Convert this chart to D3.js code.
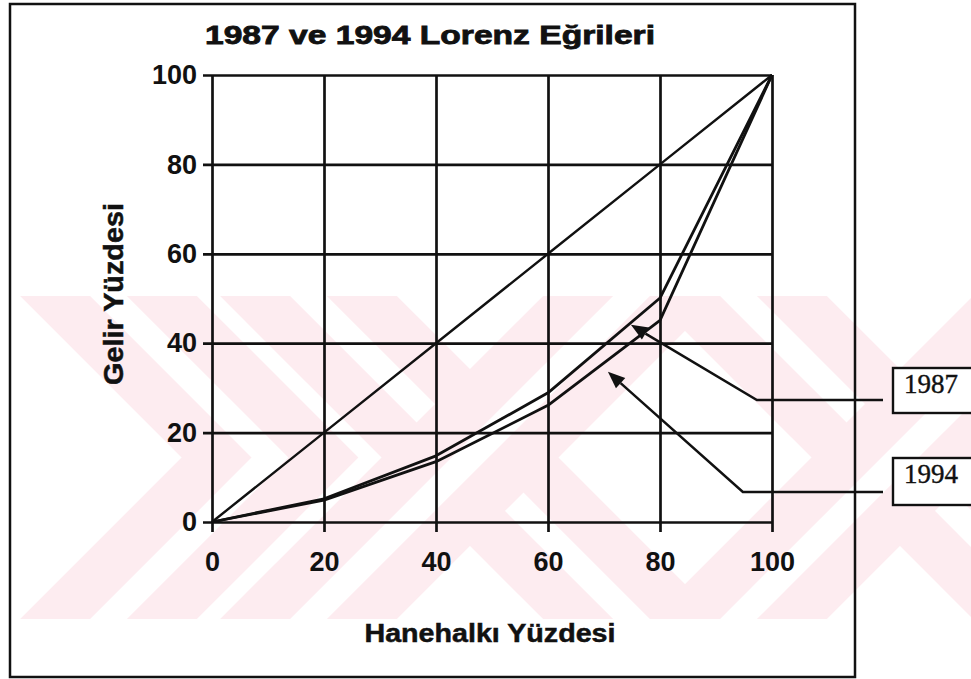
<!DOCTYPE html>
<html>
<head>
<meta charset="utf-8">
<script src="https://cdn.jsdelivr.net/npm/d3@7"></script>
<style>
  body { margin: 0; background: #fff; }
  svg { display: block; }
</style>
</head>
<body>
<div id="chart"></div>
<script>
// --- data (cumulative %) ---
const households = [0, 20, 40, 60, 80, 100];
const income1987 = [0, 5.2, 14.8, 28.9, 50.1, 100];
const income1994 = [0, 4.9, 13.5, 26.1, 45.1, 100];
const equality = [0, 20, 40, 60, 80, 100];
const xTicks = [0, 20, 40, 60, 80, 100];
const yTicks = [0, 20, 40, 60, 80, 100];
const seriesLabels = ["1987", "1994"];

const width = 971, height = 679;
const ink = "#111";

const svg = d3.select("#chart").append("svg")
    .attr("width", width)
    .attr("height", height)
    .style("background", "#fff");

// --- watermark (scan background) ---
const wm = svg.append("g");
wm.append("clipPath").attr("id", "wm-clip")
    .append("rect").attr("x", 0).attr("y", 296).attr("width", width).attr("height", 323);
const wmG = wm.append("g").attr("clip-path", "url(#wm-clip)");
const pink = "#fdecf0";
const cy = 457.5;
// chevron ">" on the left, X shapes in the middle and right
const wmPaths = [
    [[270 - 300, cy - 300], [270, cy], [270 - 300, cy + 300]],
    [[470 - 300, cy - 300], [470 + 300, cy + 300]],
    [[470 - 300, cy + 300], [470 + 300, cy - 300]],
    [[900 - 300, cy - 300], [900 + 300, cy + 300]],
    [[900 - 300, cy + 300], [900 + 300, cy - 300]]
];
wmPaths.forEach(p => {
    wmG.append("path").attr("d", d3.line()(p))
        .attr("fill", "none").attr("stroke", pink)
        .attr("stroke-width", 125);
    wmG.append("path").attr("d", d3.line()(p))
        .attr("fill", "none").attr("stroke", "#fff")
        .attr("stroke-width", 26);
});

// --- outer frame ---
svg.append("rect")
    .attr("x", 10).attr("y", 4)
    .attr("width", 845).attr("height", 673)
    .attr("fill", "none").attr("stroke", ink).attr("stroke-width", 2.5);

// --- scales ---
const x = d3.scaleLinear().domain([0, 100]).range([212, 772]);
const y = d3.scaleLinear().domain([0, 100]).range([522, 75]);

// --- axes + gridlines ---
const yAxis = svg.append("g")
    .attr("transform", `translate(${x(0)},0)`)
    .call(d3.axisLeft(y).tickValues(yTicks).tickSize(-(x(100) - x(0))).tickPadding(15));
yAxis.select(".domain").remove();
yAxis.selectAll(".tick line").attr("x1", -9).attr("stroke", ink).attr("stroke-width", 2.7);
yAxis.selectAll(".tick text")
    .attr("fill", ink)
    .style("font-family", "'Liberation Sans', Arial, sans-serif")
    .style("font-size", "27px").style("font-weight", "bold");

const xAxis = svg.append("g")
    .attr("transform", `translate(0,${y(0)})`)
    .call(d3.axisBottom(x).tickValues(xTicks).tickSize(-(y(0) - y(100))).tickPadding(30));
xAxis.select(".domain").remove();
xAxis.selectAll(".tick line").attr("y1", 10).attr("stroke", ink).attr("stroke-width", 2.7);
xAxis.selectAll(".tick text")
    .attr("fill", ink)
    .style("font-family", "'Liberation Sans', Arial, sans-serif")
    .style("font-size", "27px").style("font-weight", "bold");

// --- lines ---
const line = d3.line().x(d => x(d[0])).y(d => y(d[1]));
const series = [equality, income1987, income1994];
svg.selectAll("path.series")
    .data(series)
    .enter().append("path")
    .attr("class", "series")
    .attr("d", d => line(households.map((h, i) => [h, d[i]])))
    .attr("fill", "none")
    .attr("stroke", ink)
    .attr("stroke-width", (d, i) => i === 0 ? 2.4 : 2.8)
    .attr("stroke-linejoin", "round");

// --- titles ---
svg.append("text")
    .attr("x", 430).attr("y", 44)
    .attr("text-anchor", "middle")
    .attr("textLength", 450).attr("lengthAdjust", "spacingAndGlyphs")
    .style("font-family", "'Liberation Sans', Arial, sans-serif")
    .style("font-size", "25px").style("font-weight", "bold")
    .attr("fill", ink).attr("stroke", ink).attr("stroke-width", 0.8)
    .text("1987 ve 1994 Lorenz Eğrileri");

svg.append("text")
    .attr("transform", "translate(123,294) rotate(-90)")
    .attr("text-anchor", "middle")
    .attr("textLength", 182).attr("lengthAdjust", "spacingAndGlyphs")
    .style("font-family", "'Liberation Sans', Arial, sans-serif")
    .style("font-size", "27px").style("font-weight", "bold")
    .attr("fill", ink).attr("stroke", ink).attr("stroke-width", 0.5)
    .text("Gelir Yüzdesi");

svg.append("text")
    .attr("x", 490).attr("y", 642)
    .attr("text-anchor", "middle")
    .attr("textLength", 251).attr("lengthAdjust", "spacingAndGlyphs")
    .style("font-family", "'Liberation Sans', Arial, sans-serif")
    .style("font-size", "25px").style("font-weight", "bold")
    .attr("fill", ink).attr("stroke", ink).attr("stroke-width", 0.5)
    .text("Hanehalkı Yüzdesi");

// --- callouts (arrow tip and elbow in data units) ---
const callouts = [
    { label: seriesLabels[0], tip: [74.8, 44.1], elbow: [97.3, 27.3], boxTop: 368, boxH: 45 },
    { label: seriesLabels[1], tip: [70.7, 33.6], elbow: [94.8, 6.7], boxTop: 458, boxH: 47 }
];
const boxX = 893;
callouts.forEach(c => {
    const tx = x(c.tip[0]), ty = y(c.tip[1]);
    const ex = x(c.elbow[0]), ey = y(c.elbow[1]);
    const ang = Math.atan2(ty - ey, tx - ex);
    const len = 17, hw = 7;
    const bx = tx - len * Math.cos(ang), by = ty - len * Math.sin(ang);
    svg.append("path")
        .attr("d", d3.line()([[bx, by], [ex, ey], [boxX - 10, ey]]))
        .attr("fill", "none").attr("stroke", ink).attr("stroke-width", 2.5);
    svg.append("path")
        .attr("d", d3.line()([
            [tx, ty],
            [bx + hw * Math.sin(ang), by - hw * Math.cos(ang)],
            [bx - hw * Math.sin(ang), by + hw * Math.cos(ang)]
        ]) + "Z")
        .attr("fill", ink);
    svg.append("rect")
        .attr("x", boxX).attr("y", c.boxTop)
        .attr("width", 100).attr("height", c.boxH)
        .attr("fill", "#fff").attr("stroke", ink).attr("stroke-width", 2.4);
    svg.append("text")
        .attr("x", boxX + 11).attr("y", c.boxTop + 25)
        .style("font-family", "'Liberation Serif', 'Times New Roman', serif")
        .style("font-size", "27px")
        .attr("fill", ink).attr("stroke", ink).attr("stroke-width", 0.4)
        .text(c.label);
});
</script>
</body>
</html>
